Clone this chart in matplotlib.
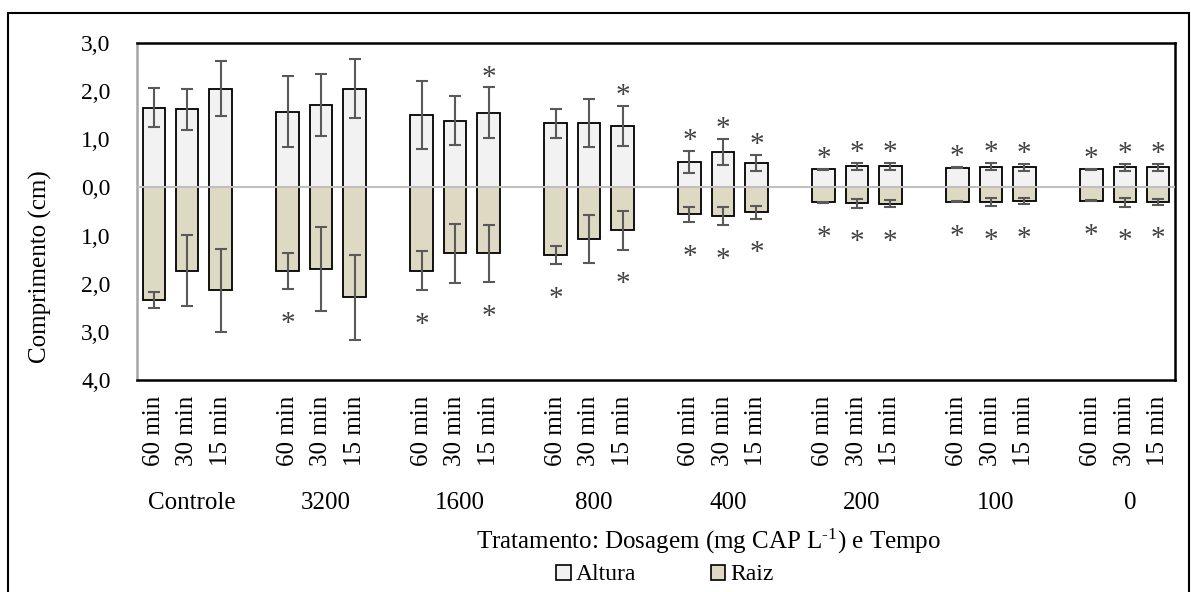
import matplotlib
matplotlib.use("Agg")
import matplotlib.pyplot as plt
import matplotlib.transforms as mtransforms
from matplotlib.patches import Patch, Rectangle
import numpy as np

plt.rcParams["font.family"] = ["Liberation Serif", "DejaVu Serif"]
plt.rcParams["mathtext.fontset"] = "custom"
plt.rcParams["mathtext.rm"] = "Liberation Serif"
plt.rcParams["mathtext.it"] = "Liberation Serif:italic"

# ── data ─────────────────────────────────────────────────────────────────────
groups = ["Controle", "3200", "1600", "800", "400", "200", "100", "0"]
times = ["60 min", "30 min", "15 min"]

altura = [1.66, 1.62, 2.05, 1.57, 1.71, 2.05, 1.51, 1.39, 1.55, 1.33, 1.34, 1.28,
          0.53, 0.74, 0.51, 0.38, 0.44, 0.44, 0.41, 0.43, 0.42, 0.38, 0.42, 0.42]
altura_err = [0.40, 0.43, 0.57, 0.74, 0.65, 0.61, 0.71, 0.50, 0.53, 0.30, 0.50, 0.42,
              0.23, 0.27, 0.17, 0.01, 0.075, 0.07, 0.01, 0.075, 0.075, 0.01, 0.075, 0.07]
raiz = [2.34, 1.73, 2.14, 1.74, 1.70, 2.28, 1.73, 1.37, 1.37, 1.41, 1.07, 0.89,
        0.56, 0.59, 0.52, 0.31, 0.33, 0.34, 0.30, 0.30, 0.28, 0.28, 0.31, 0.30]
raiz_err = [0.17, 0.74, 0.87, 0.37, 0.87, 0.88, 0.41, 0.62, 0.59, 0.19, 0.50, 0.40,
            0.16, 0.19, 0.13, 0.01, 0.09, 0.07, 0.01, 0.09, 0.065, 0.01, 0.09, 0.055]
altura_sig = [0, 0, 0, 0, 0, 0, 0, 0, 1, 0, 0, 1,
              1, 1, 1, 1, 1, 1, 1, 1, 1, 1, 1, 1]
raiz_sig = [0, 0, 0, 1, 0, 0, 1, 0, 1, 1, 0, 1,
            1, 1, 1, 1, 1, 1, 1, 1, 1, 1, 1, 1]

yticks = [3, 2, 1, 0, -1, -2, -3, -4]

# ── layout ───────────────────────────────────────────────────────────────────
W, H = 1191, 592
fig = plt.figure(figsize=(W / 100, H / 100), dpi=100)
ax = fig.add_axes([137 / W, 1 - 380 / H, (1175 - 137) / W, (380 - 43) / H])

n_t = len(times)
x = np.array([g * (n_t + 1) + i for g in range(len(groups)) for i in range(n_t)])
altura = np.array(altura)
raiz = np.array(raiz)

c_alt = "#F2F2F2"
c_raiz = "#DDD9C3"
err_kw = dict(ecolor="#595959", elinewidth=1.5, capsize=4.5, capthick=1.5)

ax.bar(x, altura, width=0.67, color=c_alt, edgecolor="black", linewidth=1.3,
       yerr=altura_err, error_kw=err_kw, zorder=2, label="Altura")
ax.bar(x, -raiz, width=0.67, color=c_raiz, edgecolor="black", linewidth=1.3,
       yerr=raiz_err, error_kw=err_kw, zorder=2, label="Raiz")
ax.axhline(0, color="#BFBFBF", lw=1.5, zorder=3)

# significance marks
for xi, v, e, s in zip(x, altura, altura_err, altura_sig):
    if s:
        ax.annotate("*", xy=(xi, v + e), xytext=(0, 7), textcoords="offset points",
                    ha="center", va="center", fontsize=21, color="#404040")
for xi, v, e, s in zip(x, raiz, raiz_err, raiz_sig):
    if s:
        ax.annotate("*", xy=(xi, -(v + e)), xytext=(0, -25), textcoords="offset points",
                    ha="center", va="center", fontsize=21, color="#404040")

ax.set_xlim(-0.5, x[-1] + 0.5)
ax.set_ylim(-4, 3)
ax.set_yticks(yticks)
ax.set_yticklabels([f"{abs(t):.1f}".replace(".", ",") for t in yticks], fontsize=17)
ax.set_xticks(x)
ax.set_xticklabels(times * len(groups), rotation=90, fontsize=18, va="top")
ax.tick_params(axis="y", length=0, pad=19)
ax.tick_params(axis="x", length=0, pad=11)

for side in ["top", "right", "bottom"]:
    ax.spines[side].set_color("black")
    ax.spines[side].set_linewidth(1.8)
ax.spines["left"].set_color("#A6A6A6")
ax.spines["left"].set_linewidth(1.8)

# group labels under the time labels
trans = mtransforms.blended_transform_factory(ax.transData, fig.transFigure)
for g, name in enumerate(groups):
    xc = x[g * n_t:(g + 1) * n_t].mean() + 0.15
    ax.text(xc, 1 - 503 / H, name, transform=trans, ha="center", va="center", fontsize=18)

fig.text(708 / W, 1 - 541 / H, r"Tratamento: Dosagem (mg CAP L$^{\text{-1}}$) e Tempo",
         ha="center", va="center", fontsize=18)
fig.text(40 / W, 1 - 267 / H, "Comprimento (cm)", rotation=90,
         ha="center", va="center", fontsize=18)

handles = [Patch(facecolor=c_alt, edgecolor="black", linewidth=1.2),
           Patch(facecolor=c_raiz, edgecolor="black", linewidth=1.2)]
fig.legend(handles, ["Altura", "Raiz"], loc="center", ncol=2,
           bbox_to_anchor=(665 / W, 1 - 575 / H), frameon=False, fontsize=17,
           handlelength=0.6, handleheight=0.6, handletextpad=0.2, columnspacing=3.2,
           borderpad=0, borderaxespad=0)

# chart-area border
fig.patches.append(Rectangle((8 / W, -0.05), (1189 - 8) / W, 1.05 - 13 / H,
                             transform=fig.transFigure, fill=False,
                             edgecolor="black", linewidth=1.5))

fig.savefig("out.png", dpi=100)
